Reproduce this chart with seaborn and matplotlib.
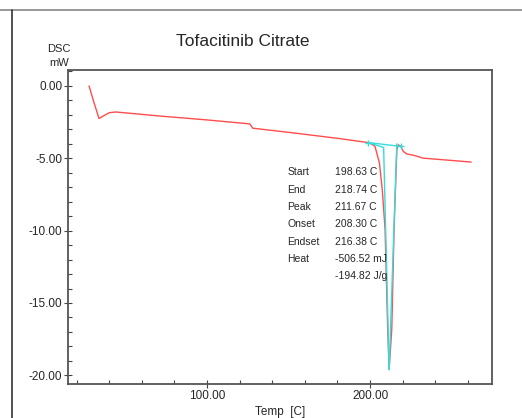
import numpy as np
import pandas as pd
import matplotlib
matplotlib.use("Agg")
import matplotlib.pyplot as plt
import seaborn as sns
from matplotlib.ticker import MultipleLocator, FormatStrFormatter

# DSC 곡선
temp = [27.6, 30.5, 33.7, 36.0, 40.0, 44.0, 70.0, 100.0, 126.0, 127.0, 128.0, 151.0,
        180.0, 198.6, 201.0, 203.0, 205.7, 207.5, 209.2, 210.8, 211.67,
        213.3, 214.7, 216.4, 217.3, 218.7, 220.4, 222.5, 227.6, 232.5, 262.0]
heat_flow = [0.0, -1.1, -2.25, -2.1, -1.85, -1.8, -2.07, -2.35, -2.62, -2.75, -2.92, -3.22,
             -3.62, -3.91, -4.02, -4.18, -5.31, -7.2, -9.93, -16.83, -19.6,
             -16.8, -9.9, -4.41, -4.07, -4.15, -4.53, -4.7, -4.82, -4.99, -5.26]

# 분석선 (baseline, onset/endset)
base_t = [198.63, 218.74]
base_y = [-3.91, -4.18]
onset_t = [198.63, 208.30, 211.67]
onset_y = [-3.91, -4.25, -19.6]
endset_t = [216.38, 211.67]
endset_y = [-4.0, -19.6]

labels = ["Start", "End", "Peak", "Onset", "Endset", "Heat", ""]
values = ["198.63 C", "218.74 C", "211.67 C", "208.30 C", "216.38 C", "-506.52 mJ", "-194.82 J/g"]

fonts = ["Liberation Sans Narrow", "Liberation Sans", "DejaVu Sans"]
sns.set_style("white")
plt.rcParams["font.family"] = fonts

fig = plt.figure(figsize=(5.22, 4.18), dpi=100)
ax = fig.add_axes([0.1303, 0.0813, 0.8123, 0.7512])

df = pd.DataFrame({"Temp": temp, "DSC": heat_flow})
sns.lineplot(data=df, x="Temp", y="DSC", sort=False, color="#ff4d4d", lw=1.0, ax=ax)
ax.plot(base_t, base_y, color="#33dddd", lw=1.0, marker="+", ms=5)
ax.plot(onset_t, onset_y, color="#33dddd", lw=1.0)
ax.plot(endset_t, endset_y, color="#33dddd", lw=1.0)

ax.set_xlim(14.7, 274.8)
ax.set_ylim(-20.6, 1.1)
ax.xaxis.set_major_locator(MultipleLocator(100))
ax.xaxis.set_minor_locator(MultipleLocator(20))
ax.yaxis.set_major_locator(MultipleLocator(5))
ax.yaxis.set_minor_locator(MultipleLocator(1))
ax.xaxis.set_major_formatter(FormatStrFormatter("%.2f"))
ax.yaxis.set_major_formatter(FormatStrFormatter("%.2f"))
ax.tick_params(which="major", direction="inout", length=6, width=0.8, color="#444444",
               labelsize=8.5, pad=1, left=True, bottom=True)
ax.tick_params(which="minor", direction="in", length=3, width=0.8, color="#444444",
               left=True, bottom=True)
for s in ax.spines.values():
    s.set_color("#555555")
    s.set_linewidth(1.3)

ax.set_xlabel("Temp  [C]", fontsize=8.5, labelpad=3)
ax.set_ylabel("")

fig.text(0.465, 0.9, "Tofacitinib Citrate", ha="center", va="center", fontsize=12.5)
fig.text(0.113, 0.883, "DSC", ha="center", va="center", fontsize=8)
fig.text(0.113, 0.85, "mW", ha="center", va="center", fontsize=8)

for i, (lab, val) in enumerate(zip(labels, values)):
    yy = 0.588 - i * 0.0415
    fig.text(0.551, yy, lab, ha="left", va="center", fontsize=7.5)
    fig.text(0.641, yy, val, ha="left", va="center", fontsize=7.5)

# 바깥 테두리
fig.add_artist(plt.Line2D([0, 1], [0.977, 0.977], color="#888888", lw=1.2))
fig.add_artist(plt.Line2D([0.0235, 0.0235], [0, 0.977], color="#333333", lw=1.2))

fig.savefig("out.png", dpi=100)
